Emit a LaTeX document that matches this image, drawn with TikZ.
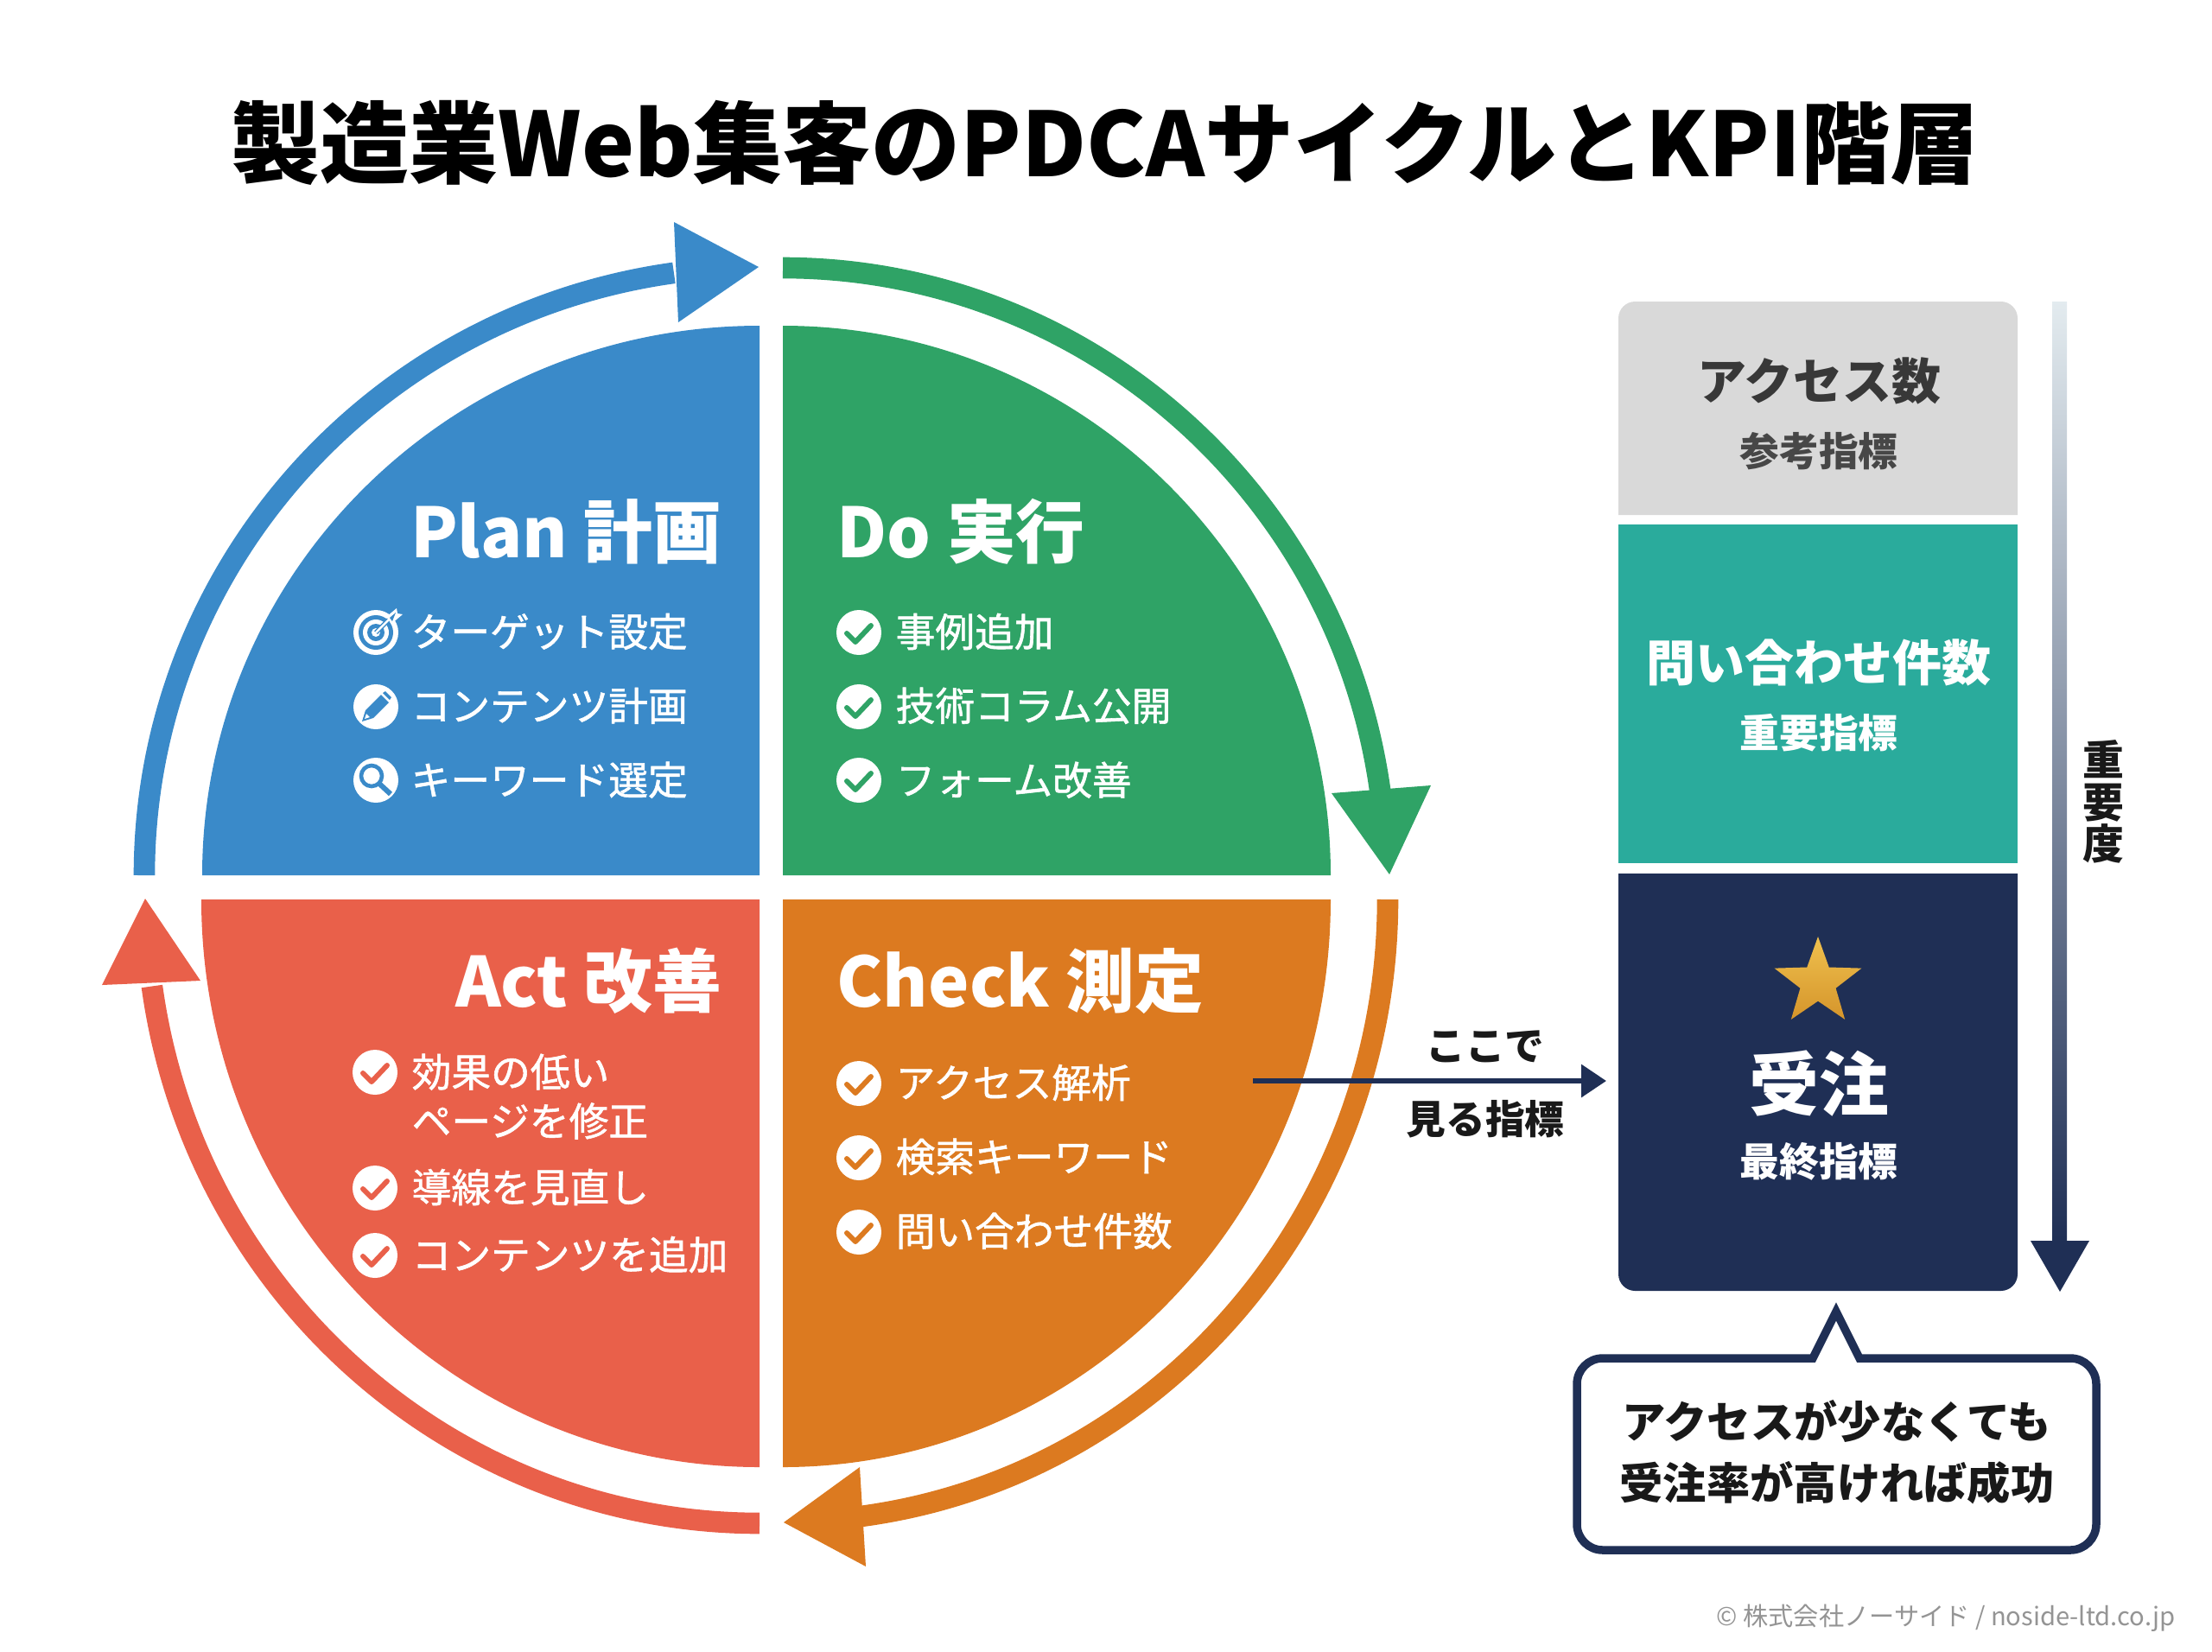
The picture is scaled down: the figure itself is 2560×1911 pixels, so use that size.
\documentclass[tikz,border=0pt]{standalone}
\usepackage{fontspec}
\usepackage{tikz}
\usetikzlibrary{shapes.geometric, arrows.meta, positioning}
\setmainfont{Noto Sans CJK JP}
\newfontfamily\jpmid[FakeBold=1.2]{Noto Sans CJK JP}
\definecolor{planblue}{HTML}{3A8AC9}
\definecolor{dogreen}{HTML}{2FA366}
\definecolor{actred}{HTML}{E9604A}
\definecolor{checkorange}{HTML}{DC7A20}
\definecolor{teal}{HTML}{2AAB9C}
\definecolor{navy}{HTML}{1F2F55}
\definecolor{goldtop}{HTML}{EFC04E}
\definecolor{goldbottom}{HTML}{D5952B}
\definecolor{scalepale}{HTML}{E3EBEF}
\definecolor{scalemid}{HTML}{7F8D9C}
\tikzset{
  ring/.style={line width=7pt},
  head/.style={font=\bfseries\fontsize{22.7pt}{26pt}\selectfont, text=white, inner sep=0pt},
  item/.style={font=\jpmid\fontsize{13pt}{16.2pt}\selectfont, text=white, inner sep=0pt, anchor=west, align=left},
  big/.style={font=\bfseries\fontsize{16.2pt}{18pt}\selectfont, inner sep=0pt},
  small/.style={font=\bfseries\fontsize{13pt}{15pt}\selectfont, inner sep=0pt},
  checkicon/.pic={
    \fill[white] (0,0) circle (26);
    \draw[#1, line width=1.7pt, line join=round, line cap=round] (-14,1) -- (-4,11) -- (14,-8);
  },
  targeticon/.pic={
    \fill[white] (0,0) circle (26);
    \fill[#1] (0,0) circle (20);
    \fill[white] (0,0) circle (15);
    \fill[#1] (0,0) circle (10);
    \fill[white] (0,0) circle (5);
    \draw[#1, line width=1.5pt] (0,0) -- (20,-20);
    \draw[white, line width=0.7pt] (0,0) -- (22,-22);
    \fill[white] (12,-18) -- (24,-28) -- (25,-22) -- (31,-21) -- (18,-10) -- cycle;
    \fill[#1] (16,-17) -- (23,-23) -- (19,-13) -- cycle;
  },
  pencilicon/.pic={
    \fill[white] (0,0) circle (26);
    \fill[#1] (-16,17) -- (-12,4) -- (6,-14) -- (15,-5) -- (-3,13) -- cycle;
    \fill[#1] (8,-16) -- (11,-18) -- (18,-11) -- (16,-8) -- cycle;
    \fill[white] (-13,14) -- (-11,8) -- (-7,12) -- cycle;
  },
  searchicon/.pic={
    \fill[white] (0,0) circle (26);
    \draw[#1, line width=1.3pt] (-5,-5) circle (12);
    \draw[#1, line width=1.7pt] (4,4) -- (17,16);
  },
}
\begin{document}
\begin{tikzpicture}[x=0.01cm, y=-0.01cm]
  \useasboundingbox (0,0) rectangle (2560,1911);
  \node (title) at (1279,165) [font=\bfseries\fontsize{29.3pt}{34pt}\selectfont, inner sep=0pt] {製造業Web集客のPDCAサイクルとKPI階層};

  % four quarters
  \fill[planblue] (879,1013) -- (234,1013) arc[start angle=180, end angle=270, x radius=645, y radius=636] -- cycle;
  \fill[dogreen] (906,1013) -- (906,377) arc[start angle=270, end angle=360, x radius=634, y radius=636] -- cycle;
  \fill[checkorange] (906,1041) -- (1540,1041) arc[start angle=0, end angle=90, x radius=634, y radius=657] -- cycle;
  \fill[actred] (879,1041) -- (879,1698) arc[start angle=90, end angle=180, x radius=646, y radius=657] -- cycle;

  % cycle arrows
  \draw[ring, planblue] (167,1013) arc[start angle=180, end angle=262, x radius=712, y radius=704];
  \fill[planblue] (878,309) -- (780,257) -- (785,373) -- cycle;
  \draw[ring, dogreen] (906,310) arc[start angle=270, end angle=352, x radius=698, y radius=703];
  \fill[dogreen] (1608,1012) -- (1541,918) -- (1656,909) -- cycle;
  \draw[ring, checkorange] (1606,1041) arc[start angle=0, end angle=83, x radius=700, y radius=720];
  \fill[checkorange] (907,1762) -- (995,1698) -- (1002,1813) -- cycle;
  \draw[ring, actred] (879,1763) arc[start angle=90, end angle=172, x radius=710, y radius=722];
  \fill[actred] (168,1040) -- (118,1140) -- (232,1135) -- cycle;

  % plan
  \node (planhead) at (836,615) [head, anchor=east] {Plan 計画};
  \node (plan1) at (475,731) [item] {ターゲット設定};
  \node (plan2) [below=0.858cm of plan1.west, item] {コンテンツ計画};
  \node (plan3) [below=0.858cm of plan2.west, item] {キーワード選定};
  \pic at (435,732) {targeticon=planblue};
  \pic at (435,818) {pencilicon=planblue};
  \pic at (435,903) {searchicon=planblue};

  % do
  \node (dohead) at (968,615) [head, anchor=west] {Do 実行};
  \node (do1) at (1036,731) [item] {事例追加};
  \node (do2) [below=0.858cm of do1.west, item] {技術コラム公開};
  \node (do3) [below=0.858cm of do2.west, item] {フォーム改善};
  \pic at (994,732) {checkicon=dogreen};
  \pic at (994,818) {checkicon=dogreen};
  \pic at (994,903) {checkicon=dogreen};

  % check
  \node (checkhead) at (968,1135) [head, anchor=west] {Check 測定};
  \node (check1) at (1036,1253) [item] {アクセス解析};
  \node (check2) [below=0.858cm of check1.west, item] {検索キーワード};
  \node (check3) [below=0.858cm of check2.west, item] {問い合わせ件数};
  \pic at (994,1254) {checkicon=checkorange};
  \pic at (994,1340) {checkicon=checkorange};
  \pic at (994,1426) {checkicon=checkorange};

  % act
  \node (acthead) at (836,1135) [head, anchor=east] {Act 改善};
  \node (act1) at (476,1269) [item] {効果の低い\\ページを修正};
  \node (act2) at (476,1374) [item] {導線を見直し};
  \node (act3) at (476,1452) [item] {コンテンツを追加};
  \pic at (434,1241) {checkicon=actred};
  \pic at (434,1375) {checkicon=actred};
  \pic at (434,1453) {checkicon=actred};

  % kpi stack
  \fill[black!15] (1873,596) [rounded corners=5.5pt] -- (1873,349) -- (2335,349) [sharp corners] -- (2335,596) -- cycle;
  \fill[teal] (1873,607) rectangle (2335,999);
  \fill[navy] (1873,1011) -- (2335,1011) [rounded corners=5.5pt] -- (2335,1494) -- (1873,1494) [sharp corners] -- cycle;
  \node (access) at (2105,441) [big, text=black!78] {アクセス数};
  \node (accesssub) at (2105,522) [small, text=black!72] {参考指標};
  \node (inquiry) at (2105,767) [big, text=white] {問い合わせ件数};
  \node (inquirysub) at (2105,848) [small, text=white] {重要指標};
  \node (star) at (2104,1137) [star, star points=5, star point ratio=2.45, minimum size=1.06cm, inner sep=0pt, top color=goldtop, bottom color=goldbottom] {};
  \node (order) at (2105,1254) [font=\bfseries\fontsize{23pt}{25pt}\selectfont, text=white, inner sep=0pt] {受注};
  \node (ordersub) at (2105,1344) [small, text=white] {最終指標};

  % importance arrow
  \shade[top color=scalepale, middle color=scalemid, bottom color=navy] (2375,349) rectangle (2392,1438);
  \fill[navy] (2350,1436) -- (2418,1436) -- (2384,1495) -- cycle;
  \node (importance) at (2434,928) [font=\bfseries\fontsize{13.6pt}{13.8pt}\selectfont, inner sep=0pt, align=center, text=black!90] {重\\要\\度};

  % link to kpi
  \coordinate (linkstart) at (1450,1251);
  \coordinate (linkend) at (1859,1251);
  \node (see1) at (1719,1211) [small, text=black!90] {ここで};
  \node (see2) at (1719,1295) [small, text=black!90] {見る指標};
  \draw[navy, line width=1.7pt, -{Triangle[length=8.2pt, width=10.5pt]}] (linkstart) -- (linkend);

  % callout
  \draw[navy, line width=2.7pt, fill=white] (2098,1572) -- (2125,1518) -- (2152,1572) [rounded corners=8.5pt] -- (2426,1572) -- (2426,1794) -- (1825,1794) -- (1825,1572) [sharp corners] -- cycle;
  \node (note) at (2126,1681) [font=\bfseries\fontsize{14.3pt}{20.2pt}\selectfont, align=center, inner sep=0pt, text=black!90] {アクセスが少なくても\\受注率が高ければ成功};

  \node (credit) at (2518,1873) [anchor=east, inner sep=0pt, text=black!42, font=\fontsize{8.3pt}{9pt}\selectfont] {© 株式会社ノーサイド / noside-ltd.co.jp};
\end{tikzpicture}
\end{document}
